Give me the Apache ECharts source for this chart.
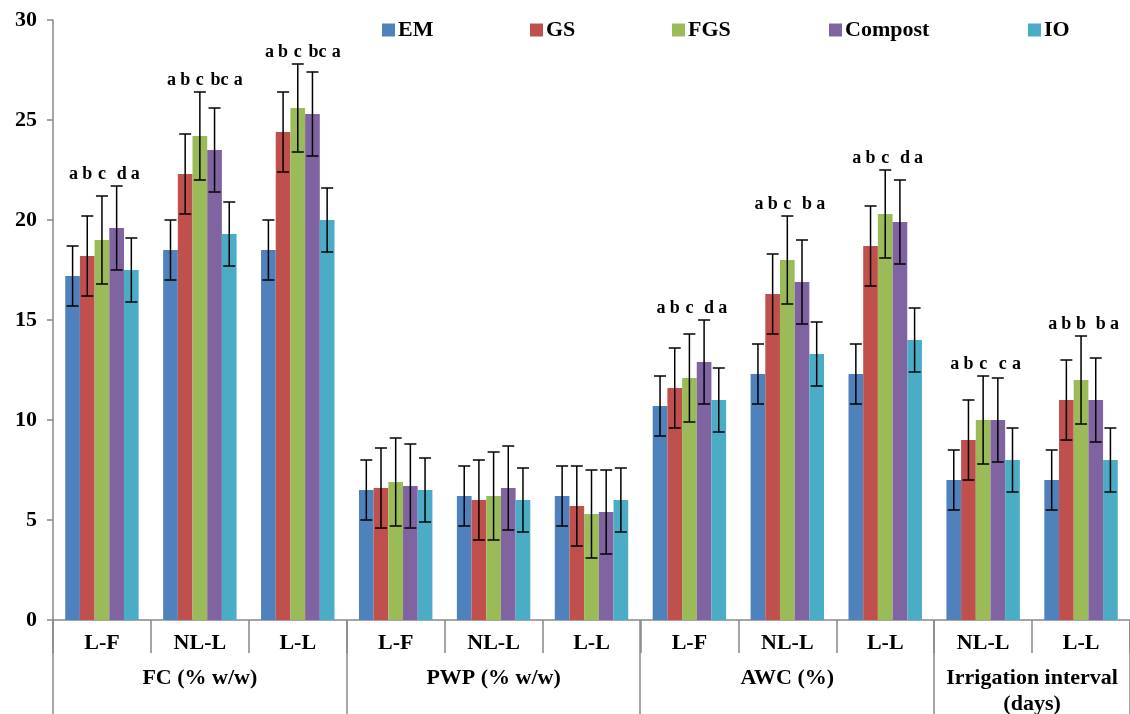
<!DOCTYPE html>
<html><head><meta charset="utf-8">
<script src="https://cdn.jsdelivr.net/npm/echarts@6/dist/echarts.min.js"></script>
<style>html,body{margin:0;padding:0;background:#fff}#c{width:1130px;height:714px}</style>
</head><body><div id="c"></div>
<script>
const categories = ['L-F','NL-L','L-L','L-F','NL-L','L-L','L-F','NL-L','L-L','NL-L','L-L'];
const groups = ['FC (% w/w)','PWP (% w/w)','AWC (%)','Irrigation interval\n(days)'];
const groupSizes = [3,3,3,2];
const seriesNames = ['EM','GS','FGS','Compost','IO'];
const EM      = [17.2, 18.5, 18.5, 6.5, 6.2, 6.2, 10.7, 12.3, 12.3, 7.0, 7.0];
const GS      = [18.2, 22.3, 24.4, 6.6, 6.0, 5.7, 11.6, 16.3, 18.7, 9.0, 11.0];
const FGS     = [19.0, 24.2, 25.6, 6.9, 6.2, 5.3, 12.1, 18.0, 20.3, 10.0, 12.0];
const Compost = [19.6, 23.5, 25.3, 6.7, 6.6, 5.4, 12.9, 16.9, 19.9, 10.0, 11.0];
const IO      = [17.5, 19.3, 20.0, 6.5, 6.0, 6.0, 11.0, 13.3, 14.0, 8.0, 8.0];
const errEM      = [1.5, 1.5, 1.5, 1.5, 1.5, 1.5, 1.5, 1.5, 1.5, 1.5, 1.5];
const errGS      = [2.0, 2.0, 2.0, 2.0, 2.0, 2.0, 2.0, 2.0, 2.0, 2.0, 2.0];
const errFGS     = [2.2, 2.2, 2.2, 2.2, 2.2, 2.2, 2.2, 2.2, 2.2, 2.2, 2.2];
const errCompost = [2.1, 2.1, 2.1, 2.1, 2.1, 2.1, 2.1, 2.1, 2.1, 2.1, 2.1];
const errIO      = [1.6, 1.6, 1.6, 1.6, 1.6, 1.6, 1.6, 1.6, 1.6, 1.6, 1.6];
const lettersEM      = ['a','a','a','','','','a','a','a','a','a'];
const lettersGS      = ['b','b','b','','','','b','b','b','b','b'];
const lettersFGS     = ['c','c','c','','','','c','c','c','c','b'];
const lettersCompost = ['d','bc','bc','','','','d','b','d','c','b'];
const lettersIO      = ['a','a','a','','','','a','a','a','a','a'];
const yTicks = [0,5,10,15,20,25,30];

const colors = ['#4F81BD','#C0504D','#9BBB59','#8064A2','#4BACC6'];
const values = [EM,GS,FGS,Compost,IO];
const errs = [errEM,errGS,errFGS,errCompost,errIO];
const letters = [lettersEM,lettersGS,lettersFGS,lettersCompost,lettersIO];
const FONT = '"Liberation Serif","Times New Roman",serif';
const GAP = 0.25;
const legendLeft = [382,530,672,829,1028];
const letterShift = [1,0,0,5,4];

const catTop = categories.map((_, i) => Math.max(...values.map((v, s) => v[i] + errs[s][i])));

const chart = echarts.init(document.getElementById('c'), null, {renderer:'canvas'});
const series = [];
values.forEach((v, s) => {
  series.push({
    name: seriesNames[s], type:'bar', data: v, barGap: '0%', barCategoryGap: (GAP*100)+'%',
    itemStyle:{color: colors[s]}, z: 2
  });
});
values.forEach((v, s) => {
  series.push({
    name: seriesNames[s] + '_err', type:'custom', z: 5, clip:false, silent:true,
    data: v.map((val, i) => [i, val, errs[s][i], catTop[i]]),
    renderItem: function(params, api){
      const ci = api.value(0), val = api.value(1), e = api.value(2), topV = api.value(3);
      const lt = letters[s][ci];
      const band = api.size([1,0])[0];
      const bw = band*(1-GAP)/5;
      const c = api.coord([ci, val]);
      const x = c[0] + (s-2)*bw;
      const yt = api.coord([ci, val+e])[1];
      const yb = api.coord([ci, val-e])[1];
      const cap = 6;
      const ls = {stroke:'#000', lineWidth:1.5};
      const children = [
        {type:'line', shape:{x1:x,y1:yt,x2:x,y2:yb}, style:ls},
        {type:'line', shape:{x1:x-cap,y1:yt,x2:x+cap,y2:yt}, style:ls},
        {type:'line', shape:{x1:x-cap,y1:yb,x2:x+cap,y2:yb}, style:ls}
      ];
      if (lt) {
        let sh = letterShift[s];
        if (s === 4 && letters[3][ci].length > 1) sh = 9;
        const ty = api.coord([ci, topV])[1] - 3;
        children.push({type:'text', style:{text: lt, x: x + sh, y: ty, align:'center', verticalAlign:'bottom',
          font:'bold 18px ' + FONT, fill:'#000'}});
      }
      return {type:'group', children};
    }
  });
});

const legends = seriesNames.map((n, i) => ({
  data:[n], left: legendLeft[i], top: 19, padding: 0, itemWidth: 13, itemHeight: 13, icon:'rect', itemGap: 4,
  textStyle:{fontFamily: FONT, fontWeight:'bold', fontSize: 22, color:'#000', padding:[0,0,0,-2]}
}));

chart.setOption({
  animation:false,
  backgroundColor:'#fff',
  legend: legends,
  grid:{left:53, top:20, width:1079, bottom:94, containLabel:false},
  xAxis:{type:'category', data: categories,
    axisLine:{lineStyle:{color:'#888', width:1.5}},
    axisTick:{show:true, interval:0, length:33, lineStyle:{color:'#888', width:1.5}},
    axisLabel:{interval:0, margin:12, fontFamily: FONT, fontWeight:'bold', fontSize:22, color:'#000'}
  },
  yAxis:{type:'value', min: yTicks[0], max: yTicks[yTicks.length-1], interval: yTicks[1]-yTicks[0],
    axisLine:{show:true, lineStyle:{color:'#888', width:1.5}},
    axisTick:{show:true, length:6, lineStyle:{color:'#888', width:1.5}},
    splitLine:{show:false},
    axisLabel:{margin:16, fontFamily: FONT, fontWeight:'bold', fontSize:22, color:'#000'}
  },
  series
});

// group labels and group dividers
const p0 = chart.convertToPixel({xAxisIndex:0}, 0);
const p1 = chart.convertToPixel({xAxisIndex:0}, 1);
const w = p1 - p0;
const y0 = chart.convertToPixel({yAxisIndex:0}, 0);
const gr = [];
let start = 0;
const bounds = [0];
groups.forEach((g, gi) => {
  const end = start + groupSizes[gi];
  bounds.push(end);
  const xl = p0 - w/2 + start*w, xr = p0 - w/2 + end*w;
  gr.push({type:'text', x:(xl+xr)/2, y: y0 + 45, style:{text: g, align:'center', verticalAlign:'top',
    font:'bold 22px ' + FONT, fill:'#000', lineHeight: 26}});
  start = end;
});
bounds.forEach(b => {
  const x = Math.round(p0 - w/2 + b*w);
  gr.push({type:'line', shape:{x1:x, y1:y0, x2:x, y2:714}, style:{stroke:'#888', lineWidth:1.5}});
});
chart.setOption({graphic: gr});
</script></body></html>
